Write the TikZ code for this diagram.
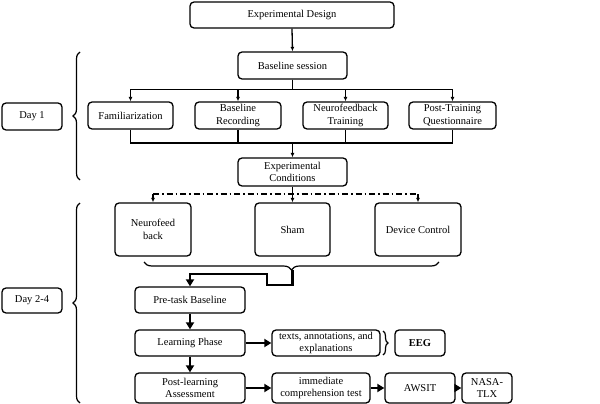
\documentclass[tikz,border=0pt]{standalone}
\usepackage{fontspec}
\setmainfont{Liberation Serif}
\usetikzlibrary{arrows.meta,decorations.pathreplacing,calc}
\begin{document}
\begin{tikzpicture}[x=1pt,y=-1pt,
  box/.style={draw,line width=1.3pt,rounded corners=4pt,align=center,inner sep=1pt,
    font=\fontsize{10.5}{12.5}\selectfont},
  thin/.style={line width=1.3pt,-{Latex[length=4.5pt,width=4pt]}},
  plain/.style={line width=1.3pt},
  thick/.style={line width=2.8pt,-{Triangle[length=7pt,width=8pt]}},
  dd/.style={line width=1.5pt,dash pattern=on 6pt off 3pt on 1.5pt off 3pt},
  brc/.style={decorate,decoration={brace,amplitude=7pt},line width=1.2pt}]
\useasboundingbox (0,0) rectangle (600,404);
% top
\node[box,minimum width=204pt,minimum height=26pt] (ED) at (292,15) {Experimental Design};
\node[box,minimum width=109pt,minimum height=27pt] (BS) at (292.5,65.5) {Baseline session};
\node[box,minimum width=85pt,minimum height=27pt] (FA) at (130.5,115.5) {Familiarization};
\node[box,minimum width=86pt,minimum height=27pt] (BR) at (238,115.5) {Baseline\\Recording};
\node[box,minimum width=85pt,minimum height=27pt] (NT) at (345.5,115.5) {Neurofeedback\\Training};
\node[box,minimum width=87pt,minimum height=27pt] (PT) at (452.5,115.5) {Post-Training\\Questionnaire};
\node[box,minimum width=60pt,minimum height=27pt] (D1) at (32,116.5) {Day 1};
\node[box,minimum width=109pt,minimum height=28pt] (EC) at (292.5,172) {Experimental\\Conditions};
% conditions
\node[box,minimum width=76pt,minimum height=53pt] (NF) at (153,229.5) {Neurofeed\\back};
\node[box,minimum width=75pt,minimum height=53pt] (SH) at (292.5,229.5) {Sham};
\node[box,minimum width=86pt,minimum height=53pt] (DC) at (418,229.5) {Device Control};
% day 2-4
\node[box,minimum width=60pt,minimum height=25pt] (D2) at (32,300.5) {Day 2-4};
\node[box,minimum width=110pt,minimum height=26pt] (PB) at (190,300) {Pre-task Baseline};
\node[box,minimum width=110pt,minimum height=26pt] (LP) at (190,343) {Learning Phase};
\node[box,minimum width=108pt,minimum height=26pt] (TX) at (326,343) {texts, annotations, and\\explanations};
\node[box,minimum width=50pt,minimum height=26pt,font=\fontsize{10.5}{12.5}\selectfont\bfseries] (EEG) at (420,343) {EEG};
\node[box,minimum width=110pt,minimum height=30pt] (PL) at (190,388) {Post-learning\\Assessment};
\node[box,minimum width=98pt,minimum height=30pt] (IM) at (321,388) {immediate\\comprehension test};
\node[box,minimum width=70pt,minimum height=30pt] (AW) at (420,388) {AWSIT};
\node[box,minimum width=50pt,minimum height=30pt] (NA) at (487,388) {NASA-\\TLX};
% connectors top
\draw[thin] (ED.south) -- (BS.north);
\draw[thin] (BS.south) -- ++(0,10) -| (FA.north);
\draw[thin] (BS.south) -- ++(0,10) -| (BR.north);
\draw[thin] (BS.south) -- ++(0,10) -| (NT.north);
\draw[thin] (BS.south) -- ++(0,10) -| (PT.north);
\coordinate (bus) at (292.5,143);
\draw[plain] (FA.south) |- (bus) -| (PT.south);
\draw[plain] (BR.south) -- (BR.south |- bus);
\draw[plain] (NT.south) -- (NT.south |- bus);
\draw[thin] (bus) -- (EC.north);
% dash-dot
\coordinate (dbus) at (292.5,194);
\draw[plain] (EC.south) -- (dbus);
\draw[dd] (NF.north |- dbus) -- (DC.north |- dbus);
\draw[thin] (NF.north |- dbus) -- (NF.north);
\draw[thin] (dbus) -- (SH.north);
\draw[thin] (DC.north |- dbus) -- (DC.north);
% braces
\draw[brc] (80,180) -- (80,52);
\draw[brc] (80,403) -- (80,203);
\draw[brc,decoration={brace,amplitude=8pt}] (439,262) -- (144,262);
\draw[brc,decoration={brace,amplitude=5pt}] (383,331) -- (383,355);
% thick path
\coordinate (bt) at (292.5,270);
\draw[thick] (bt) -- (292.5,285) -- (267,285) -- (267,274) -| (PB.north);
\draw[thick] (PB.south) -- (LP.north);
\draw[thick] (LP.south) -- (PL.north);
\draw[thick] (LP.east) -- (TX.west);
\draw[thick] (PL.east) -- (IM.west);
\draw[thick] (IM.east) -- (AW.west);
\draw[thick] (AW.east) -- (NA.west);
\end{tikzpicture}
\end{document}
